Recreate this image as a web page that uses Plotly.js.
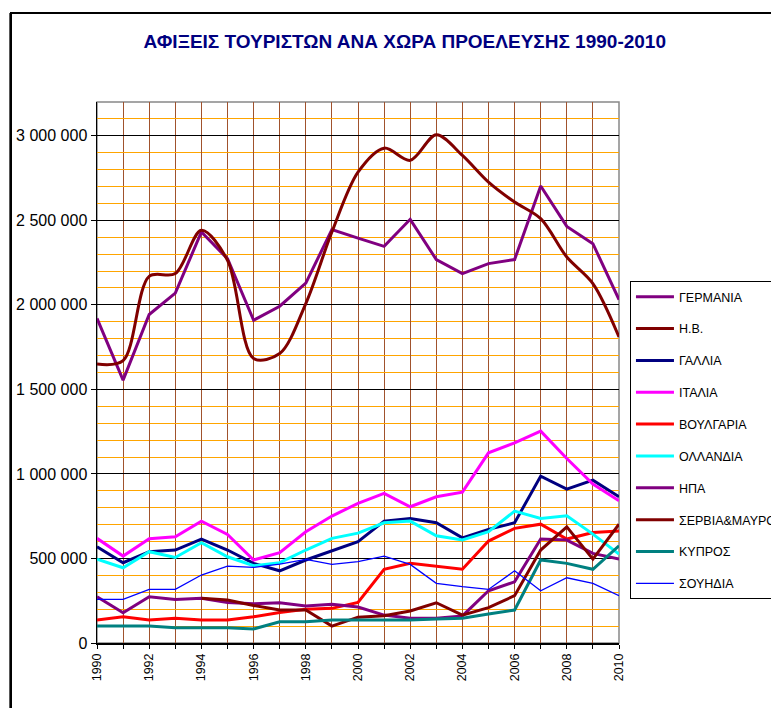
<!DOCTYPE html>
<html>
<head>
<meta charset="utf-8">
<script src="https://cdn.plot.ly/plotly-3.0.1.min.js"></script>
<style>
  html, body { margin: 0; padding: 0; background: #ffffff; overflow: hidden; }
  #chart { position: absolute; left: 0; top: 0; width: 771px; height: 708px; }
  .fl { position: absolute; background: #000; pointer-events: none; z-index: 10; }
  #ftop { left: 10px; top: 12px; width: 761px; height: 2px; }
  #fleft { left: 10px; top: 12px; width: 2px; height: 696px; }
</style>
</head>
<body>
<div id="chart"></div>
<div id="ftop" class="fl"></div>
<div id="fleft" class="fl"></div>
<script>
const years = [1990,1991,1992,1993,1994,1995,1996,1997,1998,1999,2000,2001,2002,2003,2004,2005,2006,2007,2008,2009,2010];
const xTickVals = [1990,1992,1994,1996,1998,2000,2002,2004,2006,2008,2010];

const germany     = [1920000,1555000,1943000,2070000,2431000,2273000,1909000,1992000,2129000,2445000,2395000,2346000,2506000,2268000,2185000,2244000,2268000,2703000,2464000,2362000,2031000];
const uk          = [1650000,1670000,2169000,2185000,2441000,2264000,1683000,1712000,2008000,2431000,2785000,2927000,2855000,3006000,2884000,2726000,2608000,2510000,2283000,2126000,1810000];
const france      = [569000,475000,540000,550000,615000,550000,471000,427000,491000,544000,600000,721000,737000,711000,622000,672000,711000,987000,910000,963000,865000];
const italy       = [619000,514000,617000,628000,721000,642000,491000,534000,658000,751000,826000,885000,806000,865000,892000,1125000,1184000,1253000,1091000,940000,841000];
const bulgaria    = [136000,155000,136000,146000,136000,136000,155000,181000,199000,205000,240000,436000,471000,455000,436000,603000,678000,703000,615000,654000,662000];
const netherlands = [496000,445000,540000,506000,593000,510000,457000,475000,550000,619000,650000,711000,721000,634000,609000,658000,780000,737000,752000,644000,526000];
const usa         = [274000,179000,274000,258000,264000,240000,232000,238000,219000,229000,213000,165000,146000,146000,160000,309000,362000,615000,609000,530000,496000];
const serbia      = [null,null,null,null,264000,254000,222000,195000,195000,100000,153000,161000,189000,238000,165000,209000,280000,550000,687000,496000,703000];
const cyprus      = [100000,100000,100000,90000,90000,90000,83000,126000,126000,136000,136000,136000,136000,142000,146000,171000,195000,491000,471000,436000,575000];
const sweden      = [258000,258000,317000,317000,402000,455000,447000,467000,495000,465000,481000,514000,465000,353000,333000,317000,427000,309000,386000,353000,280000];

const seriesNames = ['ΓΕΡΜΑΝΙΑ','Η.Β.','ΓΑΛΛΙΑ','ΙΤΑΛΙΑ','ΒΟΥΛΓΑΡΙΑ','ΟΛΛΑΝΔΙΑ','ΗΠΑ','ΣΕΡΒΙΑ&ΜΑΥΡΟΒΟΥΝΙΟ','ΚΥΠΡΟΣ','ΣΟΥΗΔΙΑ'];
const seriesData  = [germany, uk, france, italy, bulgaria, netherlands, usa, serbia, cyprus, sweden];
const seriesColors = ['#800080','#800000','#000080','#FF00FF','#FF0000','#00FFFF','#800080','#800000','#008080','#0000FF'];
const seriesWidths = [3,3,3,3,3,3,3,3,3,1.3];
const seriesShapes = ['linear','spline','linear','linear','linear','linear','linear','linear','linear','linear'];

const traces = seriesNames.map((name, i) => ({
  type: 'scatter',
  mode: 'lines',
  name: name,
  x: years,
  y: seriesData[i],
  legendgroup: 'g' + i,
  line: { color: seriesColors[i], width: seriesWidths[i], shape: seriesShapes[i], smoothing: 0.9 },
  connectgaps: false,
  hoverinfo: 'x+y+name'
}));

const layout = {
  width: 771,
  height: 708,
  margin: { l: 97, r: 152, t: 102, b: 65, autoexpand: false },
  paper_bgcolor: '#ffffff',
  plot_bgcolor: '#ffffff',
  separators: '. ',
  font: { family: 'Arial, "Liberation Sans", sans-serif', color: '#000' },
  title: {
    text: '<b>ΑΦΙΞΕΙΣ ΤΟΥΡΙΣΤΩΝ ΑΝΑ ΧΩΡΑ ΠΡΟΕΛΕΥΣΗΣ 1990-2010</b>',
    font: { family: 'Arial, "Liberation Sans", sans-serif', size: 19, color: '#000080' },
    xref: 'container', x: 0.525, xanchor: 'center',
    yref: 'container', y: 0.941, yanchor: 'middle'
  },
  xaxis: {
    range: [1990, 2010],
    tickvals: xTickVals,
    ticktext: xTickVals.map(String),
    tickangle: -90,
    tickfont: { size: 12.5, color: '#000' },
    ticks: 'outside', ticklen: 4, tickcolor: '#000',
    showgrid: true, gridcolor: '#A0522D', gridwidth: 1,
    minor: { dtick: 1, tick0: 1990, showgrid: true, gridcolor: '#A0522D', gridwidth: 1, ticks: 'outside', ticklen: 4, tickcolor: '#000' },
    showline: true, linecolor: '#000', linewidth: 1.5,
    zeroline: false, fixedrange: true
  },
  yaxis: {
    range: [0, 3200000],
    tick0: 0, dtick: 500000,
    tickformat: ',d',
    tickfont: { size: 16, color: '#000' },
    ticks: 'outside', ticklen: 5, tickcolor: '#000',
    showgrid: true, gridcolor: '#000', gridwidth: 1,
    minor: { dtick: 100000, tick0: 0, showgrid: true, gridcolor: '#FFA500', gridwidth: 1 },
    showline: true, linecolor: '#000', linewidth: 1.5,
    zeroline: false, fixedrange: true
  },
  shapes: [
    { type: 'rect', xref: 'paper', yref: 'paper', x0: 0, x1: 1, y0: 0, y1: 1,
      line: { color: '#888', width: 1.5 }, layer: 'below' },
    { type: 'line', xref: 'paper', yref: 'paper', x0: -0.166, x1: 1.35, y0: 1.1645, y1: 1.1645,
      line: { color: '#000', width: 2 }, layer: 'above' },
    { type: 'line', xref: 'paper', yref: 'paper', x0: -0.166, x1: -0.166, y0: 1.1645, y1: -0.2,
      line: { color: '#000', width: 2 }, layer: 'above' }
  ],
  showlegend: true,
  legend: {
    x: 1.021, xanchor: 'left', xref: 'paper',
    y: 0.669, yanchor: 'top', yref: 'paper',
    bgcolor: '#ffffff',
    bordercolor: '#000', borderwidth: 1,
    font: { size: 12.5, color: '#000' },
    itemwidth: 38,
    tracegroupgap: 12.6,
    traceorder: 'grouped'
  }
};

Plotly.newPlot('chart', traces, layout, { displayModeBar: false, staticPlot: true });
</script>
</body>
</html>
